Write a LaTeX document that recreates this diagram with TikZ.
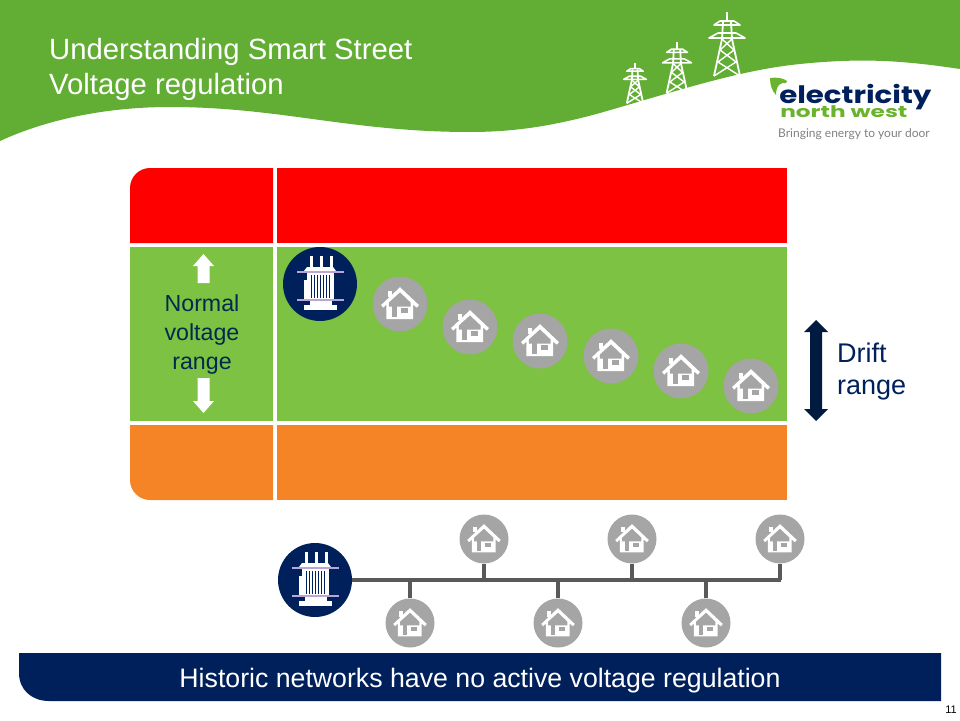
\documentclass[tikz,border=0pt]{standalone}
\usepackage{fontspec}
\setmainfont{Liberation Sans}
\newfontfamily\logofont{Poppins}
\newfontfamily\tagfont{Lato}
\definecolor{headgreen}{HTML}{62AE35}
\definecolor{leafgreen}{HTML}{6AB42D}
\definecolor{bandgreen}{HTML}{7DC242}
\definecolor{bandorange}{HTML}{F58426}
\definecolor{navy}{HTML}{00205B}
\definecolor{darknavy}{HTML}{001A40}
\definecolor{textnavy}{HTML}{002B50}
\definecolor{housegrey}{HTML}{A5A5A5}
\definecolor{busgrey}{HTML}{595959}
\definecolor{lilac}{HTML}{B9A6D6}
\tikzset{
  housenode/.style={circle,fill=housegrey,inner sep=0pt,minimum size=#1},
  trafonode/.style={circle,fill=navy,inner sep=0pt,minimum size=#1},
  bus/.style={busgrey,line width=4pt},
  title/.style={white,font=\fontsize{29.3}{32}\selectfont,anchor=base west,inner sep=0pt},
  pics/house/.style={code={
    \fill[white] (-11.5,-12.5) rectangle (-7.5,-7);
    \fill[white] (-18,1) -- (0,-16) -- (18,1) -- (16,3.5) -- (12.5,.5) -- (12.5,14.5) -- (-13,14.5) -- (-13,.5) -- (-16,3.5) -- cycle;
    \fill[housegrey] (0,-11) -- (10,-1.5) -- (10,2.5) -- (-10.5,2.5) -- (-10.5,-1.5) -- cycle;
    \fill[housegrey] (-8,2) rectangle (-3,12.5);
    \fill[housegrey] (1,4) rectangle (8,9);
  }},
  pics/trafo/.style={code={
    \foreach \bx in {-9,1,11} \fill[white] (\bx-1.5,-28) rectangle (\bx+1.5,-15);
    \fill[white] (-13,-17) -- (13,-17) -- (16,-13) -- (-16,-13) -- cycle;
    \fill[white] (-13,-11) rectangle (14,16);
    \fill[white] (-16,-4) rectangle (-13,15);
    \foreach \sx in {-9,-6,...,11} \fill[navy] (\sx,-9) rectangle (\sx+.9,14);
    \fill[white] (-10,16) rectangle (12,21);
    \fill[white] (-16,21) rectangle (17,26);
    \draw[lilac,line width=1.5pt] (-23,-12) -- (24,-12);
    \draw[lilac,line width=1.5pt] (-23,16) -- (24,16);
  }},
  pics/pylon/.style={code={
    \draw[white,line width=2.2pt] (0,0) -- (0,9);
    \draw[white,line width=1.6pt,line join=round] (-13,13) -- (-7,9) -- (7,9) -- (13,13) -- cycle;
    \draw[white,line width=1.6pt,line join=round] (-18,26) -- (-9,21) -- (9,21) -- (18,26) -- cycle;
    \draw[white,line width=1.8pt] (-4,10) -- (-5,27) -- (-13,64) (4,10) -- (5,27) -- (13,64);
    \draw[white,line width=1.4pt] (-5,27) -- (7,38) -- (-9,50) -- (13,64) (5,27) -- (-7,38) -- (9,50) -- (-13,64);
  }}
}
\begin{document}
\begin{tikzpicture}[x=1pt,y=-1pt]
  \useasboundingbox (0,0) rectangle (960,720);
  % header
  \fill[headgreen] (0,0) -- (960,0) -- (960,69) .. controls (900,60) and (860,58) .. (800,64)
    .. controls (740,70) and (680,90) .. (600,113) .. controls (560,124) and (520,132) .. (470,132)
    .. controls (350,132) and (280,107) .. (170,107) .. controls (110,107) and (50,118) .. (0,141) -- cycle;
  \node[title] (titleone) at (49,59) {Understanding Smart Street};
  \node[title] (titletwo) at (49,94) {Voltage regulation};
  \pic[scale=.63] at (635,63) {pylon};
  \pic[scale=.8] at (677,42) {pylon};
  \pic at (727,12) {pylon};
  % logo
  \fill[leafgreen] (770,78) .. controls (777,77) and (783,78) .. (787,81) -- (786,83)
    .. controls (781,82) and (776,85) .. (776,95) .. controls (772,91) and (770,85) .. (770,78) -- cycle;
  \node[navy,inner sep=0pt,anchor=base west,xscale=1.22] (logoa) at (779,103) {\logofont\bfseries\fontsize{24}{24}\selectfont electricity};
  \node[leafgreen,inner sep=0pt,anchor=base west,xscale=1.45] (logob) at (780,117) {\logofont\bfseries\fontsize{16}{16}\selectfont north west};
  \node[gray,inner sep=0pt,anchor=base west] (logoc) at (778,137) {\tagfont\fontsize{12}{12}\selectfont Bringing energy to your door};
  % bands
  \fill[red] (273,243) -- (130,243) -- (130,188) .. controls (130,177) and (139,168) .. (150,168) -- (273,168) -- cycle;
  \fill[red] (277,168) rectangle (787,243);
  \fill[bandgreen] (130,247) rectangle (273,421);
  \fill[bandgreen] (277,247) rectangle (787,421);
  \fill[bandorange] (273,425) -- (273,500) -- (150,500) .. controls (139,500) and (130,491) .. (130,480) -- (130,425) -- cycle;
  \fill[bandorange] (277,425) rectangle (787,500);
  % block arrows
  \fill[white] (203.5,254) -- (214,266) -- (209.5,266) -- (209.5,283) -- (197.5,283) -- (197.5,266) -- (193,266) -- cycle;
  \fill[white] (203.5,413) -- (214,401) -- (209.5,401) -- (209.5,378) -- (197.5,378) -- (197.5,401) -- (193,401) -- cycle;
  \node[textnavy,align=center,font=\fontsize{23.2}{29}\selectfont] (normal) at (202,334) {Normal\\voltage\\range};
  \node[trafonode=74pt] (trafoa) at (320,284) {};
  \pic at (trafoa) {trafo};
  \foreach \hname/\hx/\hy in {a/400/304,b/470/327,c/540/341,d/611/356,e/681/371,f/751/386}{
    \node[housenode=55pt] (drop\hname) at (\hx,\hy) {};
    \pic[scale=1.05] at (drop\hname) {house};
  }
  % drift
  \fill[darknavy] (816,320) -- (828,332) -- (822,332) -- (822,409) -- (828,409) -- (816,421) -- (804,409) -- (810,409) -- (810,332) -- (804,332) -- cycle;
  \node[navy,align=left,anchor=west,font=\fontsize{27}{32}\selectfont,inner sep=0pt] (drift) at (837,372) {Drift\\range};
  % network
  \node[trafonode=74pt] (trafob) at (315,580) {};
  \coordinate (busend) at (781,580);
  \foreach \hname/\hx in {a/484,b/632,c/780}{
    \node[housenode=49pt] (top\hname) at (\hx,539) {};
    \draw[bus] (top\hname) -- (\hx,580);
    \pic[scale=.93] at (top\hname) {house};
  }
  \foreach \hname/\hx in {a/410,b/558,c/706}{
    \node[housenode=49pt] (bot\hname) at (\hx,623) {};
    \draw[bus] (bot\hname) -- (\hx,580);
    \pic[scale=.93] at (bot\hname) {house};
  }
  \draw[bus] (trafob) -- (busend);
  \pic at (trafob) {trafo};
  % banner
  \fill[navy] (19,653) -- (941,653) -- (941,701) -- (49,701) .. controls (32,701) and (19,690) .. (19,673) -- cycle;
  \node[white,font=\fontsize{26.7}{30}\selectfont,anchor=base,inner sep=0pt] (banner) at (480,687) {Historic networks have no active voltage regulation};
  \node[font=\fontsize{11}{12}\selectfont] (pageno) at (951,710) {11};
\end{tikzpicture}
\end{document}
